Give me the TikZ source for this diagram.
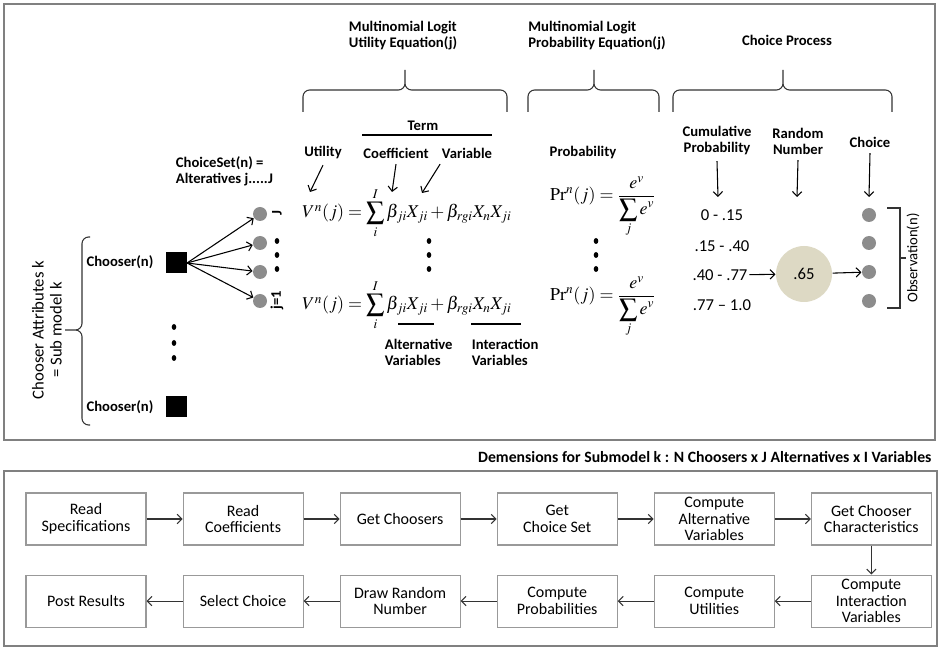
\documentclass[tikz,border=0pt]{standalone}
\usepackage{mathptmx}
\usepackage[no-math]{fontspec}
\setmainfont{Carlito}
\usetikzlibrary{positioning, arrows.meta, shapes.geometric}

\definecolor{dotgray}{RGB}{140,140,140}
\definecolor{randfill}{RGB}{221,217,196}
\definecolor{framegray}{RGB}{128,128,128}

\begin{document}
\begin{tikzpicture}[
x=0.75pt, y=-0.75pt,
>={Straight Barb[length=3.5pt, width=7pt]},
every path/.style={line width=0.8pt},
hdr/.style={font=\bfseries\fontsize{11}{12}\selectfont, align=center, inner sep=1pt},
plain/.style={font=\fontsize{12.5}{13.5}\selectfont, inner sep=1pt},
stepbox/.style={rectangle, draw=black!40, minimum width=90pt, minimum height=39pt, align=center, font=\fontsize{12}{12.5}\selectfont, inner sep=1pt},
altdot/.style={circle, fill=dotgray, minimum size=10.5pt, inner sep=0pt},
chooser/.style={rectangle, fill=black, minimum size=15.75pt, inner sep=0pt},
bracestyle/.style={draw=black!80, rounded corners=5pt},
mathtxt/.style={font=\fontsize{13.5}{15}\selectfont, inner sep=0pt}
]
\useasboundingbox (0,0) rectangle (939,648);

% frames
\draw[framegray, line width=1.1pt] (4,4) rectangle (935,440);
\draw[framegray, line width=1.1pt] (4,471) rectangle (937,646);

% section titles and braces
\node[hdr, align=left] (mnlutil) at (403,36) {Multinomial Logit\\Utility Equation(j)};
\node[hdr, align=left] (mnlprob) at (597,36) {Multinomial Logit\\Probability Equation(j)};
\node[hdr] (chproc) at (787,40) {Choice Process};
\foreach \a/\m/\b in {303/405/507, 528/594/659, 673/783/892}
  \draw[bracestyle] (\a,112) -- (\a,90) -- (\m,90) -- (\m,70)
                    (\b,112) -- (\b,90) -- (\m,90) -- (\m,70);

% choosers
\node[chooser] (chooser_1) at (176,263) {};
\node[chooser] (chooser_2) at (176,407) {};
\node[hdr] (chlab_1) at (120,262) {Chooser(n)};
\node[hdr] (chlab_2) at (120,407) {Chooser(n)};
\foreach \y in {327,343,358} \fill (174,\y) ellipse (2.3 and 3);
\draw[bracestyle] (90,237) -- (82,237) -- (82,330) -- (65,330)
                  (90,425) -- (82,425) -- (82,330) -- (65,330);
\node[plain, rotate=90, align=center] (attr) at (47,330) {Chooser Attributes k\\= Sub model k};

% choice set
\node[hdr, align=left, anchor=west] (chset) at (174,171) {ChoiceSet(n) =\\Alteratives j.....J};
\foreach \i/\y in {1/214, 2/243, 3/272, 4/301} {
  \node[altdot] (alt_\i) at (260,\y) {};
  \draw[->] (chooser_1.east) -- (alt_\i);
}
\node[hdr, rotate=90] (jtop) at (277,213) {J};
\node[hdr, rotate=90] (jone) at (277,300) {j=1};
\foreach \y in {241,255,269} \fill (277,\y) ellipse (2.3 and 3);

% utility equation
\node[hdr] (term) at (423,126) {Term};
\draw (362,135) -- (492,135);
\node[hdr] (lutil) at (323,153) {Utility};
\node[hdr] (lcoef) at (396,153) {Coefficient};
\node[hdr] (lvar) at (467,153) {Variable};
\coordinate (putil) at (310,192);
\coordinate (pcoef) at (392,192);
\coordinate (pvar) at (422,193);
\draw[->] ([yshift=-3pt]lutil.south) -- (putil);
\draw[->] ([yshift=-3pt]lcoef.south) -- (pcoef);
\draw[->] ([yshift=-3pt]lvar.south west) -- (pvar);
\node[mathtxt] (equ_1) at (407,213) {$V^n(j)=\displaystyle\sum_i^I \beta_{ji}X_{ji}+\beta_{rgi}X_nX_{ji}$};
\foreach \y in {241,255,269} \fill (429,\y) ellipse (2.3 and 3);
\node[mathtxt] (equ_2) at (407,305) {$V^n(j)=\displaystyle\sum_i^I \beta_{ji}X_{ji}+\beta_{rgi}X_nX_{ji}$};
\draw (398,324) -- (434,324);
\draw (471,324) -- (521,324);
\node[hdr, align=left, anchor=west] (altvar) at (383,352) {Alternative\\Variables};
\node[hdr, align=left, anchor=west] (intvar) at (470,352) {Interaction\\Variables};

% probability equation
\node[hdr] (lprob) at (583,153) {Probability};
\node[mathtxt] (prob_1) at (603,207) {$\displaystyle\mathrm{Pr}^n(j)=\frac{e^v}{\displaystyle\sum_j e^v}$};
\foreach \y in {241,255,269} \fill (596,\y) ellipse (2.3 and 3);
\node[mathtxt] (prob_2) at (603,307) {$\displaystyle\mathrm{Pr}^n(j)=\frac{e^v}{\displaystyle\sum_j e^v}$};

% choice process
\node[hdr] (lcum) at (717,141) {Cumulative\\Probability};
\node[hdr] (lrand) at (798,141) {Random\\Number};
\node[hdr] (lchoice) at (870,142) {Choice};
\coordinate (pcum) at (718,197);
\coordinate (prand) at (797,197);
\coordinate (pchoice) at (869,197);
\draw[->] ([yshift=-3pt]lcum.south) -- (pcum);
\draw[->] ([yshift=-3pt]lrand.south) -- (prand);
\draw[->] ([yshift=-3pt]lchoice.south) -- (pchoice);
\node[plain] (rng_1) at (722,215) {0 - .15};
\node[plain] (rng_2) at (722,246) {.15 - .40};
\node[plain] (rng_3) at (720,275) {.40 - .77};
\node[plain] (rng_4) at (722,305) {.77 -- 1.0};
\node[circle, fill=randfill, minimum size=42pt, inner sep=0pt, font=\fontsize{12.5}{13}\selectfont] (rnum) at (804,274) {.65};
\foreach \i/\y in {1/215, 2/243, 3/272, 4/301}
  \node[altdot] (obs_\i) at (869,\y) {};
\draw[->] (rng_3) -- (rnum);
\draw[->] (rnum) -- (obs_3);
\draw[black!80] (887,208) -- (900,208) -- (900,308) -- (887,308)
                (900,258) -- (906,258);
\node[plain, rotate=90, font=\fontsize{11}{12}\selectfont] (lobs) at (913,258) {Observation(n)};

% process flow
\node[font=\bfseries\fontsize{11.8}{13}\selectfont, anchor=east, inner sep=0pt] (dims) at (932,457) {Demensions for Submodel k : N Choosers x J Alternatives x I Variables};
\node[stepbox] (rspec) at (86,519) {Read\\Specifications};
\node[stepbox] (rcoef) [right=27pt of rspec] {Read\\Coefficients};
\node[stepbox] (gchoos) [right=27pt of rcoef] {Get Choosers};
\node[stepbox] (gcset) [right=27pt of gchoos] {Get\\Choice Set};
\node[stepbox] (calt) [right=27pt of gcset] {Compute\\Alternative\\Variables};
\node[stepbox] (gchar) [right=27pt of calt] {Get Chooser\\Characteristics};
\node[stepbox] (cint) [below=21.75pt of gchar] {Compute\\Interaction\\Variables};
\node[stepbox] (cutil) [left=27pt of cint] {Compute\\Utilities};
\node[stepbox] (cprob) [left=27pt of cutil] {Compute\\Probabilities};
\node[stepbox] (drand) [left=27pt of cprob] {Draw Random\\Number};
\node[stepbox] (schoice) [left=27pt of drand] {Select Choice};
\node[stepbox] (post) [left=27pt of schoice] {Post Results};
\foreach \a/\b in {rspec/rcoef, rcoef/gchoos, gchoos/gcset, gcset/calt, calt/gchar, gchar/cint,
                   cint/cutil, cutil/cprob, cprob/drand, drand/schoice, schoice/post}
  \draw[->, black!80] (\a) -- (\b);

\end{tikzpicture}
\end{document}
